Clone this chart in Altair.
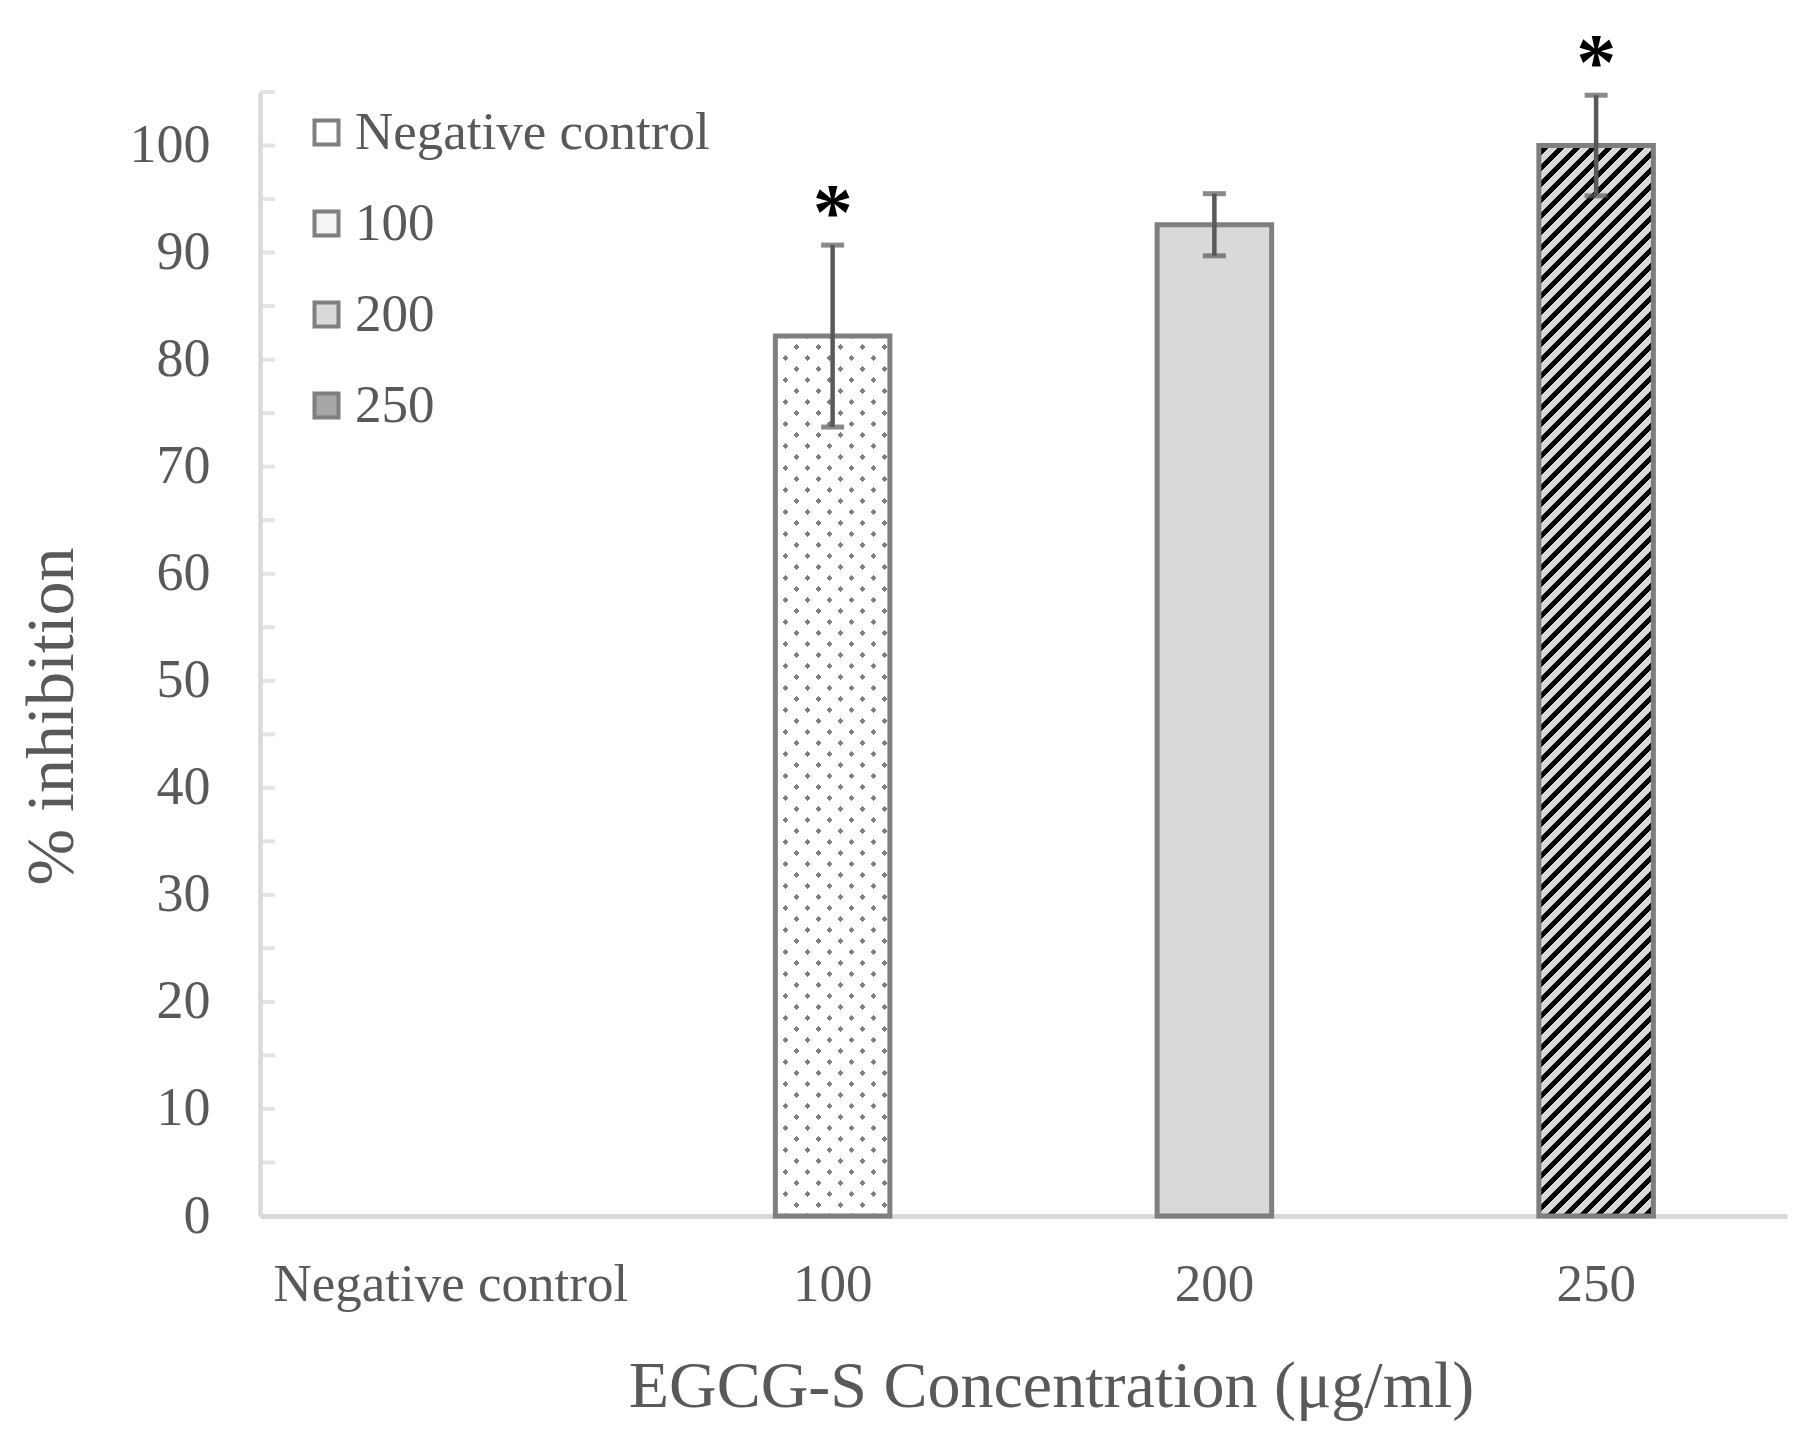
import altair as alt
import pandas as pd

# ---------------- data ----------------
CATEGORIES = ["Negative control", "100", "200", "250"]
MEANS = [0.0, 82.2, 92.6, 100.0]
ERRORS = [0.0, 8.5, 2.9, 4.7]
STARS = ["", "*", "", "*"]
Y_LABEL_VALUES = [0, 10, 20, 30, 40, 50, 60, 70, 80, 90, 100]
Y_MINOR_TICKS = [5, 10, 15, 20, 25, 30, 35, 40, 45, 50, 55, 60, 65, 70, 75, 80,
                 85, 90, 95, 100, 105]
LEGEND_FILLS = ["#ffffff", "#f4f4f4", "#d9d9d9", "#a6a6a6"]

# ---------------- layout / style ----------------
PLOT_W, PLOT_H = 1527, 1124
Y_MAX = 105
BAR_FRAC = 0.30
FONT = "Liberation Serif"
TEXT_COLOR = "#595959"
AXIS_COLOR = "#d9d9d9"
BAR_STROKE = "#7f7f7f"
ERR_COLOR = "#595959"

df = pd.DataFrame({"conc": CATEGORIES, "mean": MEANS, "err": ERRORS, "star": STARS})
df["lo"] = df["mean"] - df["err"]
df["hi"] = df["mean"] + df["err"]
ticks_df = pd.DataFrame({"v": Y_MINOR_TICKS})


def hatch(value, direction, period, width, fg, bg):
    """Linear gradient with hard stops that draws 45-degree stripes on a bar."""
    W = BAR_FRAC * PLOT_W / len(CATEGORIES)
    H = value / Y_MAX * PLOT_H
    D = W * W + H * H
    dx = W * (W + H) / D
    dy = H * (W + H) / D
    if direction == "/":
        x1, y1, x2, y2 = 0, 0, dx, dy
    else:
        x1, y1, x2, y2 = 0, 1, dx, 1 - dy
    L = W + H
    p = period / L
    w = width / L
    stops = [{"offset": 0, "color": bg}]
    a = p / 3
    while a < 1:
        b = min(a + w, 1)
        stops += [
            {"offset": round(a, 6), "color": bg},
            {"offset": round(a, 6), "color": fg},
            {"offset": round(b, 6), "color": fg},
            {"offset": round(b, 6), "color": bg},
        ]
        a += p
    stops.append({"offset": 1, "color": bg})
    return {"gradient": "linear", "x1": x1, "y1": y1, "x2": x2, "y2": y2, "stops": stops}


x_enc = alt.X(
    "conc:N",
    sort=CATEGORIES,
    scale=alt.Scale(paddingInner=0, paddingOuter=0),
    title="EGCG-S Concentration (μg/ml)",
    axis=alt.Axis(
        labelAngle=0, ticks=False, domainColor=AXIS_COLOR, domainWidth=5,
        labelFont=FONT, labelFontSize=53, labelColor=TEXT_COLOR, labelPadding=42,
        labelLimit=0,
        titleFont=FONT, titleFontSize=66, titleColor=TEXT_COLOR, titleFontWeight="normal",
        titleX=791, titleY=190, titleBaseline="alphabetic", titleAlign="center",
    ),
)

y_title = "% inhibition"
y_enc = alt.Y(
    "mean:Q",
    scale=alt.Scale(domain=[0, Y_MAX], nice=False),
    title=y_title,
    axis=alt.Axis(
        values=Y_LABEL_VALUES, ticks=False, grid=False, domainColor=AXIS_COLOR, domainWidth=4.5,
        labelFont=FONT, labelFontSize=54, labelColor=TEXT_COLOR, labelPadding=50,
        titleFont=FONT, titleFontSize=68, titleColor=TEXT_COLOR, titleFontWeight="normal",
        titleAngle=270, titleX=-188, titleY=624, titleBaseline="alphabetic", titleAlign="center",
    ),
)

base = alt.Chart(df).encode(x=x_enc)

legend_bars = base.mark_bar(width=alt.RelativeBandSize(BAR_FRAC), strokeWidth=0).encode(
    y=y_enc,
    fill=alt.Fill(
        "conc:N", sort=CATEGORIES,
        scale=alt.Scale(domain=CATEGORIES, range=LEGEND_FILLS),
        legend=alt.Legend(
            orient="none", legendX=40, legendY=14, title=None, symbolType="square",
            symbolSize=576, symbolStrokeColor=BAR_STROKE, symbolStrokeWidth=4,
            labelFont=FONT, labelFontSize=53, labelColor=TEXT_COLOR, labelOffset=2,
            labelLimit=0, rowPadding=37, padding=0,
        ),
    ),
)

y_mean = alt.Y("mean:Q", title=y_title)

dots_under = base.transform_filter(alt.datum.conc == CATEGORIES[1]).mark_bar(
    width=alt.RelativeBandSize(BAR_FRAC), strokeWidth=0,
    fill=hatch(MEANS[1], "/", 22, 6, "#808080", "#ffffff"),
).encode(y=y_mean)

dots_over = base.transform_filter(alt.datum.conc == CATEGORIES[1]).mark_bar(
    width=alt.RelativeBandSize(BAR_FRAC), strokeWidth=0,
    fill=hatch(MEANS[1], "\\", 22, 6, "rgba(255,255,255,0)", "#ffffff"),
).encode(y=y_mean)

stripes = base.transform_filter(alt.datum.conc == CATEGORIES[3]).mark_bar(
    width=alt.RelativeBandSize(BAR_FRAC), strokeWidth=0,
    fill=hatch(MEANS[3], "/", 16, 6.5, "#000000", "#d9d9d9"),
).encode(y=y_mean)

outline = base.transform_filter(alt.datum.mean > 0).mark_bar(
    width=alt.RelativeBandSize(BAR_FRAC), fill="transparent", stroke=BAR_STROKE, strokeWidth=5,
).encode(y=y_mean)

err_base = base.transform_filter(alt.datum.err > 0)
err_rule = err_base.mark_rule(color=ERR_COLOR, strokeWidth=4.5).encode(
    y=alt.Y("lo:Q", title=y_title), y2="hi:Q"
)
cap_hi = err_base.mark_tick(color=ERR_COLOR, thickness=5, size=23).encode(
    y=alt.Y("hi:Q", title=y_title)
)
cap_lo = err_base.mark_tick(color=ERR_COLOR, thickness=5, size=23).encode(
    y=alt.Y("lo:Q", title=y_title)
)

stars = base.transform_filter(alt.datum.star != "").mark_text(
    font=FONT, fontSize=80, fontWeight="bold", color="#000000", baseline="alphabetic", dy=-6,
).encode(y=alt.Y("hi:Q", title=y_title), text="star:N")

inner_ticks = alt.Chart(ticks_df).mark_tick(color=AXIS_COLOR, thickness=4, size=15).encode(
    y=alt.Y("v:Q", title=y_title), x=alt.value(7.5)
)

chart = alt.layer(
    legend_bars, dots_under, dots_over, stripes, outline, inner_ticks,
    err_rule, cap_hi, cap_lo, stars,
).properties(
    width=PLOT_W, height=PLOT_H,
    autosize=alt.AutoSizeParams(type="none"),
    padding={"left": 252, "top": 84, "right": 16, "bottom": 213},
    background="#ffffff",
).configure(font=FONT).configure_view(stroke="transparent")

chart.save("out.html", embed_options={"renderer": "svg", "actions": False})
